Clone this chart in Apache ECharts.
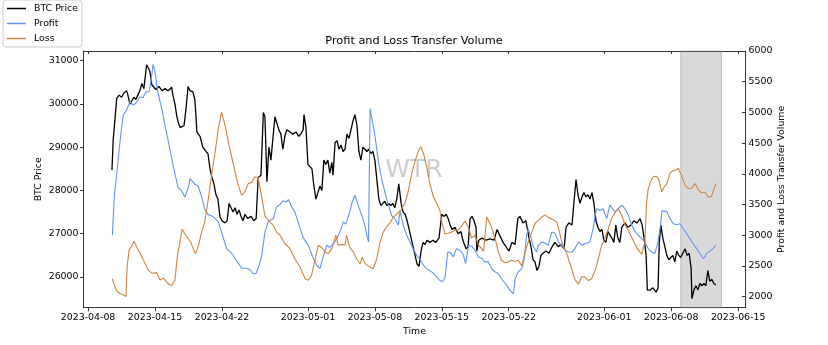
<!DOCTYPE html>
<html>
<head>
<meta charset="utf-8">
<script src="https://cdn.jsdelivr.net/npm/echarts@6/dist/echarts.min.js"></script>
<style>html,body{margin:0;padding:0;background:#fff}#c{width:828px;height:345px}</style>
</head>
<body>
<div id="c"></div>
<script>
// time origin of the series: hours are counted from 2023-04-10 12:00 UTC
const START = '2023-04-10T12:00:00Z';

// [hours since START, BTC price]
const btcPrice = [[0,28470],[3,29160],[12,30130],[18,30200],[24,30150],[30,30250],[37,30300],[40,30200],[45,29990],[50,30000],[55,30150],[60,30100],[65,30200],[70,30300],[75,30470],[80,30350],[87,30900],[90,30850],[94,30780],[97,30650],[100,30440],[104,30400],[110,30330],[118,30400],[126,30300],[133,30350],[141,30300],[150,30380],[153,30200],[158,30000],[163,29700],[167,29550],[171,29450],[176,29420],[181,29500],[186,29900],[191,30400],[196,30300],[203,30280],[208,30100],[211,29700],[213,29350],[221,29250],[228,29000],[236,28900],[241,28850],[246,28500],[251,28300],[256,28150],[261,27900],[266,27800],[271,27400],[276,27300],[284,27250],[289,27300],[294,27700],[299,27600],[304,27500],[309,27600],[314,27450],[319,27550],[324,27400],[329,27300],[334,27450],[341,27350],[349,27400],[356,27300],[362,27350],[367,28300],[374,28350],[380,29800],[384,29700],[389,28200],[394,29000],[399,28700],[404,29200],[409,29700],[414,29550],[419,29400],[424,29300],[429,28950],[434,29250],[439,29400],[447,29350],[454,29300],[462,29350],[469,29250],[474,29300],[480,29400],[482,29750],[487,29450],[492,28600],[497,28550],[502,28500],[507,28100],[512,27800],[517,27950],[522,28100],[527,28000],[532,28700],[537,28600],[542,28700],[547,28400],[552,28650],[555,28350],[560,29100],[565,29150],[570,28950],[575,29050],[580,28900],[585,28950],[590,29300],[595,29200],[600,29400],[605,29600],[610,29750],[615,29500],[620,28900],[625,28700],[630,29000],[635,28950],[640,28900],[645,28950],[650,28850],[655,28900],[660,28700],[665,28250],[670,27800],[675,27650],[680,27700],[685,27750],[690,27650],[695,27700],[700,27650],[705,27700],[710,27600],[715,27800],[720,28150],[726,27700],[731,27500],[736,27450],[741,27300],[746,27100],[751,26900],[756,26700],[761,26500],[766,26300],[771,26250],[776,26600],[781,26800],[786,26750],[791,26850],[798,26800],[806,26850],[813,26800],[821,26900],[828,27450],[833,27400],[839,27450],[844,27350],[849,27200],[854,27100],[861,27150],[869,27000],[876,27050],[881,26850],[889,26650],[894,26700],[899,27350],[904,27400],[909,27300],[914,27150],[916,26600],[921,26850],[929,26900],[939,26850],[949,26880],[959,26850],[967,27100],[974,26950],[982,26800],[989,26700],[997,26600],[1004,26800],[1012,26750],[1019,27350],[1024,27400],[1032,27250],[1039,27300],[1047,26900],[1052,26700],[1057,26400],[1062,26350],[1067,26150],[1072,26250],[1077,26500],[1082,26550],[1090,26600],[1097,26550],[1105,26700],[1112,26800],[1120,26700],[1127,26750],[1135,26650],[1140,27150],[1147,27250],[1155,27200],[1160,27750],[1165,28250],[1170,27900],[1175,27700],[1180,27850],[1185,27950],[1190,27850],[1195,27900],[1200,27800],[1205,27950],[1210,27700],[1215,27300],[1220,27150],[1225,27050],[1230,27100],[1235,26850],[1240,26800],[1245,27050],[1250,27050],[1255,26900],[1260,26800],[1265,27200],[1270,26900],[1275,26800],[1280,27150],[1288,27250],[1295,27150],[1303,27200],[1310,27300],[1318,27250],[1326,27350],[1331,27200],[1336,26900],[1341,26500],[1344,25700],[1351,25700],[1358,25750],[1366,25650],[1371,25750],[1374,26800],[1378,27200],[1383,26900],[1388,26700],[1393,26500],[1398,26400],[1403,26450],[1408,26500],[1413,26350],[1418,26600],[1423,26500],[1428,26450],[1433,26550],[1439,26650],[1444,26500],[1449,26550],[1454,26200],[1456,25500],[1461,25700],[1466,25800],[1471,25700],[1476,25850],[1481,25800],[1486,25850],[1491,25800],[1496,26150],[1501,25900],[1506,25950],[1511,25850],[1516,25820]];

// [hours since START, profit transfer volume]
const profitVolume = [[1,3000],[6,3650],[12,4000],[20,4520],[28,4950],[33,5000],[38,5060],[45,5170],[53,5120],[60,5150],[70,5250],[78,5240],[85,5330],[93,5340],[98,5500],[103,5780],[108,5660],[115,5330],[125,5060],[133,4790],[141,4540],[150,4250],[158,4000],[166,3780],[175,3720],[183,3620],[192,3780],[196,3920],[201,3950],[208,3830],[216,3800],[225,3630],[233,3420],[242,3330],[249,3320],[256,3290],[267,3215],[275,3050],[288,2780],[301,2700],[313,2580],[326,2460],[338,2460],[346,2440],[355,2370],[362,2380],[369,2500],[376,2670],[384,3050],[392,3215],[399,3250],[405,3270],[413,3460],[422,3500],[429,3560],[437,3540],[443,3580],[451,3460],[459,3380],[468,3200],[480,2960],[493,2830],[505,2630],[514,2510],[522,2455],[527,2470],[530,2645],[539,2835],[547,2800],[556,2860],[564,2940],[572,3050],[581,3215],[587,3180],[597,3380],[603,3540],[610,3650],[618,3490],[627,3320],[635,3160],[640,3000],[644,2890],[648,5060],[653,5060],[660,4630],[669,4190],[677,3920],[685,3700],[694,3490],[702,3320],[710,3270],[719,3160],[723,3400],[731,3160],[740,3000],[748,2890],[756,2780],[765,2670],[773,2615],[782,2510],[790,2455],[803,2400],[815,2320],[823,2265],[830,2240],[836,2300],[843,2725],[849,2720],[857,2645],[865,2780],[874,2750],[882,2680],[888,2535],[895,2835],[903,2820],[911,2760],[920,2645],[929,2620],[936,2560],[944,2570],[953,2455],[962,2400],[969,2380],[978,2290],[991,2185],[999,2100],[1008,2045],[1012,2290],[1020,2400],[1029,2455],[1035,2615],[1041,3000],[1045,3105],[1052,2960],[1058,2810],[1066,2725],[1070,2835],[1079,2890],[1087,2870],[1095,2835],[1104,3050],[1112,3030],[1121,2890],[1129,2835],[1137,2755],[1146,2725],[1155,2725],[1162,2780],[1171,2890],[1180,2835],[1187,2860],[1200,2890],[1208,3105],[1213,3320],[1217,3430],[1225,3400],[1233,3430],[1242,3270],[1250,3490],[1255,3510],[1263,3380],[1271,3430],[1280,3490],[1288,3430],[1296,3330],[1305,3160],[1313,3060],[1321,3000],[1330,2940],[1338,2890],[1346,2780],[1355,2725],[1363,2700],[1371,2900],[1376,3105],[1381,3400],[1386,3420],[1393,3380],[1401,3270],[1409,3185],[1418,3170],[1426,3185],[1434,3105],[1443,3025],[1451,2940],[1459,2860],[1468,2780],[1476,2700],[1485,2615],[1493,2700],[1501,2740],[1509,2780],[1516,2840]];

// [hours since START, loss transfer volume]
const lossVolume = [[1,2290],[5,2200],[12,2090],[20,2050],[28,2030],[35,2000],[38,2490],[43,2760],[49,2815],[55,2900],[60,2870],[66,2760],[75,2650],[83,2540],[91,2430],[100,2380],[105,2400],[112,2390],[121,2270],[129,2300],[137,2240],[143,2200],[150,2180],[158,2260],[164,2650],[171,2900],[176,3100],[183,3020],[191,2950],[198,2880],[204,2780],[210,2700],[216,2800],[225,3050],[233,3215],[242,3595],[250,3975],[259,4355],[267,4735],[275,5005],[284,4790],[292,4520],[301,4260],[309,4030],[317,3810],[326,3650],[334,3710],[342,3840],[351,3860],[359,3950],[367,3940],[376,3620],[384,3310],[392,3250],[405,3160],[413,3050],[422,3000],[434,2860],[447,2780],[459,2615],[472,2480],[485,2290],[493,2265],[501,2345],[510,2615],[518,2835],[526,2800],[535,2725],[543,2700],[552,2780],[562,3000],[568,2835],[577,2850],[585,2835],[589,3000],[597,2800],[606,2725],[614,2615],[623,2530],[628,2640],[635,2540],[643,2500],[650,2470],[656,2455],[665,2620],[673,2880],[681,3050],[690,3140],[698,3200],[706,3290],[715,3340],[720,3380],[727,3420],[736,3530],[744,3720],[752,3990],[761,4210],[769,4370],[775,4440],[782,4335],[790,4115],[798,3845],[807,3625],[815,3520],[823,3410],[829,3190],[836,3020],[844,3030],[853,3050],[861,3080],[869,3080],[878,3150],[886,3230],[895,3130],[903,2950],[911,3000],[920,2840],[928,2780],[933,2740],[941,3300],[945,3320],[953,3130],[962,2940],[970,2725],[978,2590],[987,2550],[994,2560],[1003,2590],[1012,2570],[1020,2590],[1029,2500],[1037,2725],[1045,2890],[1054,3050],[1062,3190],[1069,3230],[1079,3295],[1087,3330],[1095,3290],[1108,3250],[1116,3220],[1121,3120],[1129,2890],[1137,2780],[1146,2615],[1154,2455],[1162,2280],[1171,2200],[1179,2320],[1187,2320],[1196,2260],[1204,2290],[1213,2420],[1221,2620],[1229,2820],[1238,2960],[1246,3100],[1254,3270],[1263,3370],[1271,3430],[1280,3320],[1288,3170],[1296,3080],[1305,2960],[1313,2850],[1321,2760],[1330,2690],[1338,2900],[1342,3500],[1346,3750],[1353,3880],[1359,3950],[1367,3960],[1373,3900],[1380,3710],[1386,3780],[1393,3840],[1401,4010],[1408,4050],[1416,4060],[1422,4090],[1430,3970],[1439,3810],[1447,3760],[1455,3760],[1464,3840],[1472,3740],[1480,3690],[1489,3700],[1497,3620],[1505,3630],[1516,3840]];

// tick labels
const xTickLabels = ['2023-04-08','2023-04-15','2023-04-22','2023-05-01','2023-05-08','2023-05-15','2023-05-22','2023-06-01','2023-06-08','2023-06-15'];
const btcTicks = [26000,27000,28000,29000,30000,31000];
const volumeTicks = [2000,2500,3000,3500,4000,4500,5000,5500,6000];
// highlighted period
const shadedPeriod = ['2023-06-09T00:00:00Z','2023-06-13T06:00:00Z'];

const HOUR = 3600000;
const t0 = Date.parse(START);
const toSeries = arr => arr.map(p => [t0 + p[0]*HOUR, p[1]]);
const xTickValues = xTickLabels.map(s => Date.parse(s + 'T00:00:00Z'));
const pad = n => (n < 10 ? '0' : '') + n;
const fmtDate = v => { const d = new Date(v); return d.getUTCFullYear() + '-' + pad(d.getUTCMonth()+1) + '-' + pad(d.getUTCDate()); };
const fmtNum = v => String(Math.round(v));

const FONT = 'DejaVu Sans';
const FS = 9.4;
const xMin = t0 - 71.5*HOUR, xMax = t0 + 1590.5*HOUR;
const spine = {show:true, onZero:false, lineStyle:{color:'#333', width:1}};

const chart = echarts.init(document.getElementById('c'), null, {renderer:'canvas'});
chart.setOption({
  animation:false,
  backgroundColor:'#fff',
  textStyle:{fontFamily:FONT},
  title:{text:'Profit and Loss Transfer Volume', left:'center', top:36, padding:0,
    textStyle:{fontFamily:FONT, fontSize:11.3, fontWeight:'normal', color:'#000'}},
  legend:{orient:'vertical', left:3, top:0, padding:[3,4,3,4], itemGap:4, itemWidth:19, itemHeight:1.5,
    icon:'rect', borderColor:'#ccc', borderWidth:1, borderRadius:3, backgroundColor:'#fff',
    data:['BTC Price','Profit','Loss'],
    textStyle:{fontFamily:FONT, fontSize:FS, color:'#000', lineHeight:11, padding:[0,0,0,3]}},
  grid:{left:83.5, right:82.5, top:51, bottom:37.3, containLabel:false},
  xAxis:[
    {type:'value', min:xMin, max:xMax, position:'bottom',
     name:'Time', nameLocation:'middle', nameGap:19.5, nameMoveOverlap:false,
     nameTextStyle:{fontFamily:FONT, fontSize:FS, color:'#000'},
     axisLine:spine, splitLine:{show:false},
     axisTick:{show:true, inside:false, length:3.5, customValues:xTickValues, lineStyle:{color:'#333'}},
     axisLabel:{show:true, customValues:xTickValues, formatter:fmtDate, margin:5, fontFamily:FONT, fontSize:FS, color:'#000', hideOverlap:false}},
    {type:'value', min:xMin, max:xMax, position:'top',
     axisLine:spine, splitLine:{show:false},
     axisTick:{show:true, inside:true, length:3, customValues:xTickValues, lineStyle:{color:'#333'}},
     axisLabel:{show:false}}
  ],
  yAxis:[
    {type:'value', position:'left', min:25292, max:31219,
     name:'BTC Price', nameLocation:'middle', nameGap:40, nameRotate:90, nameMoveOverlap:false,
     nameTextStyle:{fontFamily:FONT, fontSize:FS, color:'#000'},
     axisLine:spine, splitLine:{show:false},
     axisTick:{show:true, inside:false, length:3.5, customValues:btcTicks, lineStyle:{color:'#333'}},
     axisLabel:{customValues:btcTicks, formatter:fmtNum, margin:5, fontFamily:FONT, fontSize:FS, color:'#000'}},
    {type:'value', position:'right', min:1818, max:6000,
     name:'Profit and Loss Transfer Volume', nameLocation:'middle', nameGap:32, nameRotate:90, nameMoveOverlap:false,
     nameTextStyle:{fontFamily:FONT, fontSize:FS, color:'#000'},
     axisLine:spine, splitLine:{show:false},
     axisTick:{show:true, inside:true, length:3.5, customValues:volumeTicks, lineStyle:{color:'#333'}},
     axisLabel:{customValues:volumeTicks, formatter:fmtNum, margin:3, fontFamily:FONT, fontSize:FS, color:'#000'}}
  ],
  graphic:[{type:'text', x:414, y:170, z:50, silent:true,
    style:{text:'WTR', fontFamily:FONT, fontSize:25, fill:'rgba(128,128,128,0.4)', textAlign:'center', textVerticalAlign:'middle'}}],
  series:[
    {name:'BTC Price', type:'line', xAxisIndex:0, yAxisIndex:0, data:toSeries(btcPrice), showSymbol:false, symbol:'none',
     lineStyle:{color:'#000', width:1.3}, itemStyle:{color:'#000'},
     markArea:{silent:true, itemStyle:{color:'rgba(128,128,128,0.3)', borderColor:'rgba(128,128,128,0.45)', borderWidth:1},
       data:[[{xAxis:Date.parse(shadedPeriod[0])},{xAxis:Date.parse(shadedPeriod[1])}]]}},
    {name:'Profit', type:'line', xAxisIndex:0, yAxisIndex:1, data:toSeries(profitVolume), showSymbol:false, symbol:'none',
     lineStyle:{color:'#6495ED', width:1.1}, itemStyle:{color:'#6495ED'}},
    {name:'Loss', type:'line', xAxisIndex:0, yAxisIndex:1, data:toSeries(lossVolume), showSymbol:false, symbol:'none',
     lineStyle:{color:'#CD853F', width:1.1}, itemStyle:{color:'#CD853F'}}
  ]
});
</script>
</body>
</html>
